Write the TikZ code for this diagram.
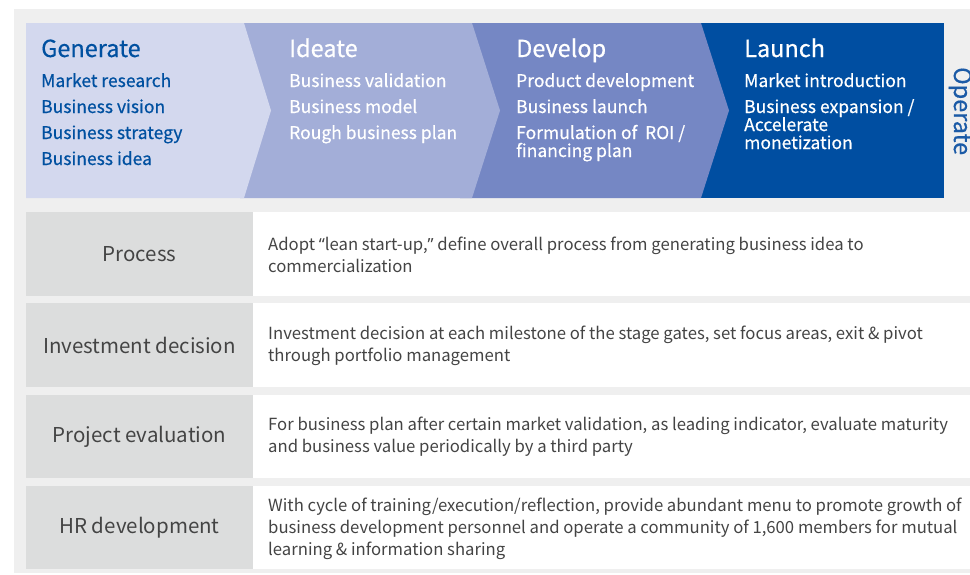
\documentclass[tikz,border=0pt]{standalone}
\usepackage{fontspec}
\setmainfont{Noto Sans CJK SC}
\newfontfamily\medfont{Noto Sans CJK SC}[FakeBold=0.5]
\newfontfamily\qfont{Noto Sans}
\definecolor{bgc}{HTML}{EFEFEF}
\definecolor{cgen}{HTML}{D3D8EE}
\definecolor{cide}{HTML}{A3AED8}
\definecolor{cdev}{HTML}{7587C4}
\definecolor{clau}{HTML}{004EA1}
\definecolor{tblue}{HTML}{0050A0}
\definecolor{opblue}{HTML}{1B5AA6}
\definecolor{lcell}{HTML}{DCDDDD}
\definecolor{txt}{HTML}{444444}
\tikzset{
  head/.style={anchor=base west, inner sep=0, font=\medfont\fontsize{23.5}{24}\selectfont},
  item/.style={anchor=base west, inner sep=0, font=\medfont\fontsize{17.5}{18}\selectfont},
  labelcell/.style={fill=lcell, minimum width=227pt, minimum height=84pt, inner sep=0, text=txt, font=\fontsize{20.5}{22}\selectfont},
  desc/.style={anchor=west, align=left, inner sep=0, text=txt, font=\fontsize{16.7}{22}\selectfont}
}
\begin{document}
\begin{tikzpicture}[x=1pt,y=-1pt]
\useasboundingbox (0,0) rectangle (970,574);
\fill[bgc] (14,9) rectangle (980,573);
% chevrons
\fill[clau] (690,23) rectangle (944,198);
\fill[cdev] (460,23) -- (701,23) -- (729,110.5) -- (701,198) -- (460,198) -- cycle;
\fill[cide] (240,23) -- (472,23) -- (500,110.5) -- (472,198) -- (240,198) -- cycle;
\fill[cgen] (26,23) -- (244,23) -- (271,110.5) -- (244,198) -- (26,198) -- cycle;
% Generate
\node[head, text=tblue] (genH) at (41,57) {Generate};
\node[item, text=tblue] (gen1) at (41,87) {Market research};
\node[item, text=tblue] (gen2) at (41,113) {Business vision};
\node[item, text=tblue] (gen3) at (41,139) {Business strategy};
\node[item, text=tblue] (gen4) at (41,165) {Business idea};
% Ideate
\node[head, text=white] (ideH) at (289,57) {Ideate};
\node[item, text=white] (ide1) at (289,87) {Business validation};
\node[item, text=white] (ide2) at (289,113) {Business model};
\node[item, text=white] (ide3) at (289,139) {Rough business plan};
% Develop
\node[head, text=white] (devH) at (516,57) {Develop};
\node[item, text=white] (dev1) at (516,87) {Product development};
\node[item, text=white] (dev2) at (516,113) {Business launch};
\node[item, text=white] (dev3) at (516,139) {Formulation of\ \ ROI /};
\node[item, text=white] (dev4) at (516,157) {financing plan};
% Launch
\node[head, text=white] (lauH) at (744,57) {Launch};
\node[item, text=white] (lau1) at (744,87) {Market introduction};
\node[item, text=white] (lau2) at (744,113) {Business expansion /};
\node[item, text=white] (lau3) at (744,131) {Accelerate};
\node[item, text=white] (lau4) at (744,149) {monetization};
% Operate
\node[anchor=base west, rotate=-90, inner sep=0, text=opblue, font=\medfont\fontsize{23.5}{24}\selectfont] (op) at (954,67) {Operate};
% rows
\fill[white] (253,212) rectangle (980,296);
\fill[white] (253,303) rectangle (980,387);
\fill[white] (253,395) rectangle (980,478);
\fill[white] (253,486) rectangle (980,569);
\node[labelcell] (l1) at (139.5,254) {Process};
\node[labelcell] (l2) at (139.5,345) {Investment decision};
\node[labelcell, minimum height=83pt] (l3) at (139.5,436.5) {Project evaluation};
\node[labelcell, minimum height=83pt] (l4) at (139.5,527.5) {HR development};
\node[desc] (d1) at (268,255) {Adopt {\qfont “}lean start-up,{\qfont ”} define overall process from generating business idea to\\commercialization};
\node[desc] (d2) at (268,346) {Investment decision at each milestone of the stage gates, set focus areas, exit \& pivot\\through portfolio management};
\node[desc] (d3) at (268,437) {For business plan after certain market validation, as leading indicator, evaluate maturity\\and business value periodically by a third party};
\node[desc] (d4) at (268,529) {With cycle of training/execution/reflection, provide abundant menu to promote growth of\\business development personnel and operate a community of 1,600 members for mutual\\learning \& information sharing};
\end{tikzpicture}
\end{document}
